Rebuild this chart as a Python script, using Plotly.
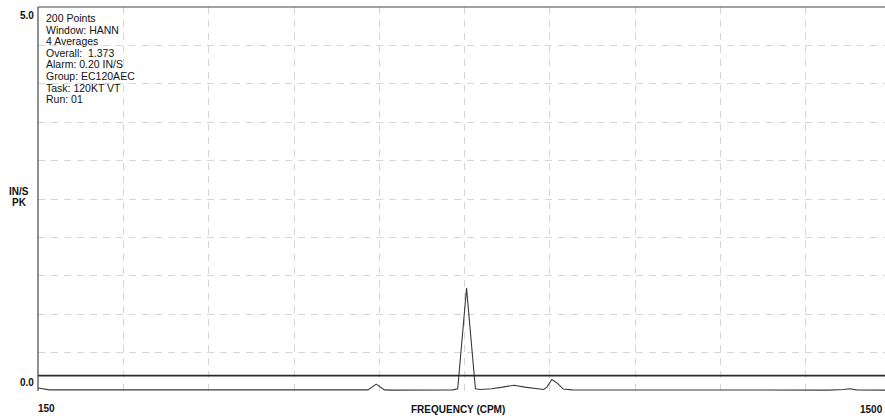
import plotly.graph_objects as go

# Spectrum vertices (frequency in CPM, amplitude in IN/S PK)
freq = [150, 157, 168, 250, 400, 550, 660, 672, 685, 698, 710, 780, 806, 814, 821, 828, 835,
        842, 850, 868, 885, 903, 920, 939, 950, 955, 963, 972, 981, 995, 1100, 1250, 1400,
        1425, 1434, 1445, 1490]
amp = [0.04, 0.03, 0.015, 0.015, 0.015, 0.012, 0.012, 0.015, 0.09, 0.015, 0.012, 0.012, 0.015,
       0.03, 0.65, 1.34, 0.68, 0.03, 0.02, 0.03, 0.05, 0.075, 0.05, 0.025, 0.02, 0.05, 0.15,
       0.1, 0.025, 0.015, 0.012, 0.012, 0.012, 0.02, 0.03, 0.015, 0.012]

alarm_level = 0.20
x_range = [150, 1490]
y_range = [0, 5.0]
x_grid_step = 135
y_grid_step = 0.5

info_lines = ["200 Points", "Window: HANN", "4 Averages", "Overall:  1.373",
              "Alarm: 0.20 IN/S", "Group: EC120AEC", "Task: 120KT VT", "Run: 01"]
y_tick_labels = ["5.0", "0.0"]
x_tick_labels = ["150", "1500"]
x_title = "FREQUENCY (CPM)"
y_title = ["IN/S", "PK"]

FONT = "Liberation Sans, Arial, sans-serif"
INK = "#111111"

fig = go.Figure()
fig.add_trace(go.Scatter(x=freq, y=amp, mode="lines",
                         line=dict(color="#3a3a3a", width=1.1), hoverinfo="skip"))
fig.add_trace(go.Scatter(x=x_range, y=[alarm_level, alarm_level], mode="lines",
                         line=dict(color="#2a2a2a", width=1.8), hoverinfo="skip"))

fig.update_layout(
    width=885, height=419,
    margin=dict(l=38, r=0, t=7, b=28),
    paper_bgcolor="white", plot_bgcolor="white",
    showlegend=False,
    xaxis=dict(range=x_range, tick0=150, dtick=x_grid_step, showgrid=True,
               gridcolor="#d6d6d6", griddash="7px,6px", gridwidth=1,
               showticklabels=False, zeroline=False, showline=False, ticks=""),
    yaxis=dict(range=y_range, tick0=0, dtick=y_grid_step, showgrid=True,
               gridcolor="#d6d6d6", griddash="7px,6px", gridwidth=1,
               showticklabels=False, zeroline=False, showline=False, ticks=""),
)

# borders: left and top
fig.add_shape(type="line", xref="paper", yref="paper", x0=0, x1=0, y0=0, y1=1,
              line=dict(color="#444", width=1.2))
fig.add_shape(type="line", xref="paper", yref="paper", x0=0, x1=1, y0=1, y1=1,
              line=dict(color="#444", width=1.2))

# info block
for i, t in enumerate(info_lines):
    fig.add_annotation(text=t, xref="paper", yref="paper", x=0, y=1, xanchor="left",
                       yanchor="top", xshift=6, yshift=-3 - i * 11.6, showarrow=False,
                       font=dict(family=FONT, size=10.5, color=INK))

def bold(s):
    return "<b>" + s + "</b>"

# y tick labels
fig.add_annotation(text=bold(y_tick_labels[0]), xref="paper", yref="paper", x=0, y=1,
                   xanchor="right", yanchor="top", xshift=-2, yshift=-1, showarrow=False,
                   font=dict(family=FONT, size=10, color=INK))
fig.add_annotation(text=bold(y_tick_labels[1]), xref="paper", yref="paper", x=0, y=0,
                   xanchor="right", yanchor="bottom", xshift=-2, yshift=1, showarrow=False,
                   font=dict(family=FONT, size=10, color=INK))

# y title
for i, t in enumerate(y_title):
    fig.add_annotation(text=bold(t), xref="paper", yref="paper", x=0, y=0.5, xanchor="center",
                       yanchor="middle", xshift=-19, yshift=8 - i * 11, showarrow=False,
                       font=dict(family=FONT, size=10, color=INK))

# x labels
fig.add_annotation(text=bold(x_tick_labels[0]), xref="paper", yref="paper", x=0, y=0,
                   xanchor="left", yanchor="top", xshift=-2, yshift=-10, showarrow=False,
                   font=dict(family=FONT, size=10, color=INK))
fig.add_annotation(text=bold(x_tick_labels[1]), xref="paper", yref="paper", x=1, y=0,
                   xanchor="right", yanchor="top", xshift=0, yshift=-11, showarrow=False,
                   font=dict(family=FONT, size=10, color=INK))
fig.add_annotation(text=bold(x_title), xref="paper", yref="paper", x=0.5, y=0,
                   xanchor="center", yanchor="top", xshift=-4, yshift=-11, showarrow=False,
                   font=dict(family=FONT, size=10, color=INK))

fig.write_html("out.html", config={"displayModeBar": False},
               post_script="document.body.style.margin='0';document.body.style.overflow='hidden';")
